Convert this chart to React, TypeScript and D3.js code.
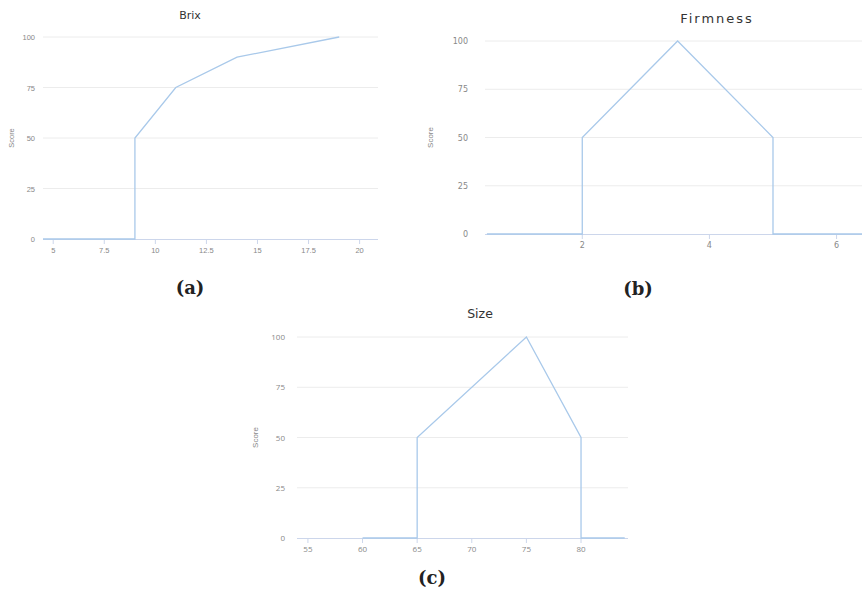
import * as d3 from 'd3';

// Score curves, one per quality attribute
const brixX = [4.5, 9, 9, 11, 14, 19];
const brixScore = [0, 0, 50, 75, 90, 100];
const brixTicks = [5, 7.5, 10, 12.5, 15, 17.5, 20];

const firmX = [0.5, 2, 2, 3.5, 5, 5, 6.5];
const firmScore = [0, 0, 50, 100, 50, 0, 0];
const firmTicks = [2, 4, 6];

const sizeX = [60, 65, 65, 75, 80, 80, 84];
const sizeScore = [0, 0, 50, 100, 50, 0, 0];
const sizeTicks = [55, 60, 65, 70, 75, 80];

const scoreTicks = [0, 25, 50, 75, 100];

interface PanelProps {
    title: string;
    label: string;
    xs: number[];
    ys: number[];
    xTicks: number[];
    xDomain: [number, number];
    left: number;
    right: number;
    top: number;
    bottom: number;
    titleX: number;
    titleY: number;
    titleSize: number;
    titleSpacing?: number;
    tickSize: number;
    tickFont: string;
    scoreX: number;
    tickRight: number;
    labelX: number;
    labelY: number;
}

const Panel: React.FC<PanelProps> = (p) => {
    const x = d3.scaleLinear().domain(p.xDomain).range([p.left, p.right]);
    const y = d3.scaleLinear().domain([0, 100]).range([p.bottom, p.top]);
    const pts = p.xs.map((v, i) => [v, p.ys[i]] as [number, number]);
    const line = d3.line<[number, number]>()
        .x(d => Math.min(p.right, x(d[0])))
        .y(d => y(d[1]));

    return (
        <g>
            <text x={p.titleX} y={p.titleY} textAnchor="middle" fontSize={p.titleSize}
                letterSpacing={p.titleSpacing || 0} fill="#333" fontFamily="'DejaVu Sans', sans-serif">
                {p.title}
            </text>
            {scoreTicks.map(t => (
                <g key={t}>
                    {t > 0 && <line x1={p.left} x2={p.right} y1={y(t)} y2={y(t)} stroke="#ececec" strokeWidth={1} />}
                    <text x={p.tickRight} y={y(t) + 3} textAnchor="end" fontSize={p.tickSize}
                        fill="#888" fontFamily={p.tickFont}>{t}</text>
                </g>
            ))}
            <line x1={p.left} x2={p.right} y1={p.bottom + 0.5} y2={p.bottom + 0.5} stroke="#ccd6eb" strokeWidth={1} />
            {p.xTicks.map(t => (
                <g key={t}>
                    <line x1={x(t)} x2={x(t)} y1={p.bottom} y2={p.bottom + 5} stroke="#ccd6eb" strokeWidth={1} />
                    <text x={x(t)} y={p.bottom + 14} textAnchor="middle" fontSize={p.tickSize}
                        fill="#888" fontFamily={p.tickFont}>{t}</text>
                </g>
            ))}
            <text transform={`translate(${p.scoreX},${(p.top + p.bottom) / 2}) rotate(-90)`}
                textAnchor="middle" fontSize={p.tickSize} fill="#888"
                fontFamily="'Liberation Sans Narrow', 'Liberation Sans', sans-serif">Score</text>
            <path d={line(pts) || ''} fill="none" stroke="#a9c9ea" strokeWidth={1.3} />
            <text x={p.labelX} y={p.labelY} textAnchor="middle" fontSize={18} fontWeight="bold"
                fill="#222" fontFamily="'DejaVu Serif', serif">{p.label}</text>
        </g>
    );
};

export default function App() {
    return (
        <svg width={862} height={591} style={{ position: 'absolute', left: 0, top: 0, background: '#fff' }}>
            <Panel title="Brix" label="(a)" xs={brixX} ys={brixScore} xTicks={brixTicks}
                xDomain={[4.5, 20.9]} left={43} right={378} top={37} bottom={239}
                titleX={190} titleY={19} titleSize={11} tickSize={7.5}
                tickFont="'Liberation Sans Narrow', 'Liberation Sans', sans-serif"
                scoreX={14} tickRight={35} labelX={190} labelY={294} />
            <Panel title="Firmness" label="(b)" xs={firmX} ys={firmScore} xTicks={firmTicks}
                xDomain={[0.47, 6.4]} left={485} right={862} top={41} bottom={234}
                titleX={717} titleY={23} titleSize={13} titleSpacing={2} tickSize={8}
                tickFont="'DejaVu Sans', sans-serif"
                scoreX={433} tickRight={468} labelX={638} labelY={295} />
            <Panel title="Size" label="(c)" xs={sizeX} ys={sizeScore} xTicks={sizeTicks}
                xDomain={[54, 84.3]} left={297} right={628} top={337} bottom={538}
                titleX={480} titleY={318} titleSize={12.5} tickSize={8}
                tickFont="'Open Sans', sans-serif"
                scoreX={258} tickRight={285} labelX={432} labelY={584} />
        </svg>
    );
}
